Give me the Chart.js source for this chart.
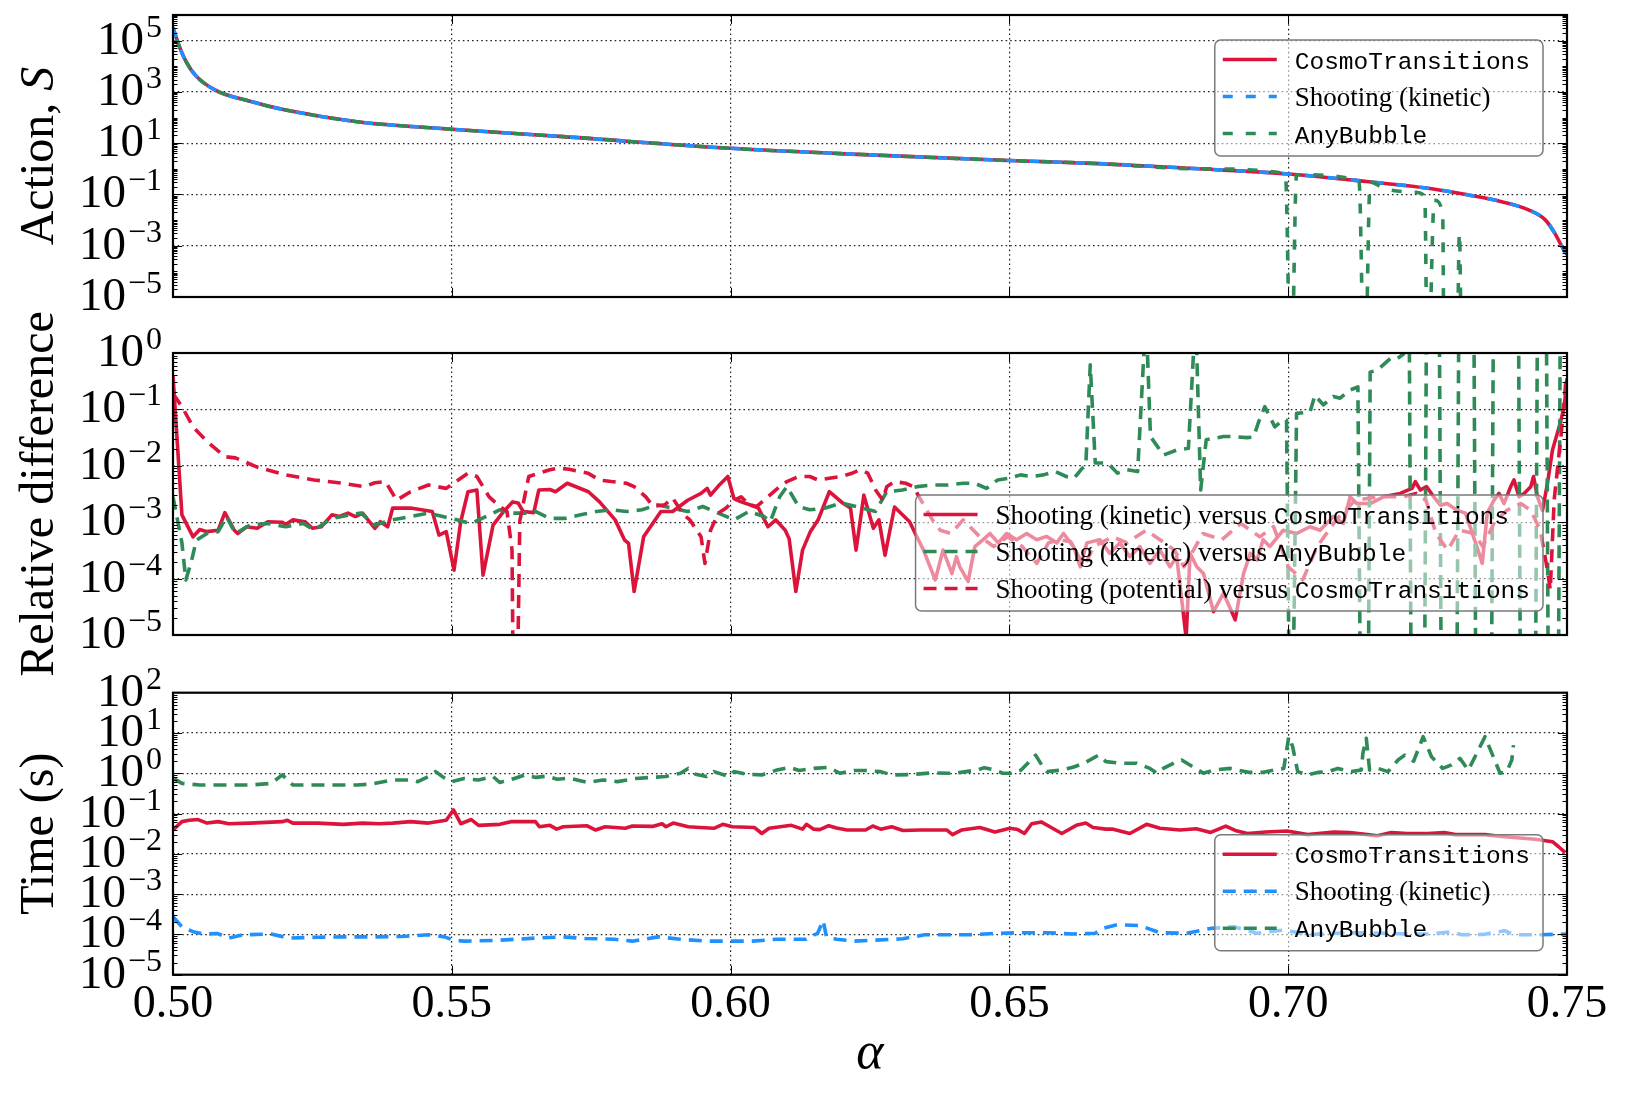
<!DOCTYPE html>
<html>
<head>
<meta charset="utf-8">
<title>Action, relative difference and timing versus alpha</title>
<script src="https://cdn.jsdelivr.net/npm/chart.js@4.4.1/dist/chart.umd.min.js"></script>
<style>
  html, body { margin: 0; padding: 0; background: #fff; }
  #wrap { position: relative; width: 1625px; height: 1098px; }
  #wrap canvas { position: absolute; left: 0; top: 0; }
</style>
</head>
<body>
<div id="wrap">
  <canvas id="actionChart" width="1625" height="1098"></canvas>
  <canvas id="relChart" width="1625" height="1098"></canvas>
  <canvas id="timeChart" width="1625" height="1098"></canvas>
</div>
<script>
// ---- tick values ----
const alphaTicks = [0.5, 0.55, 0.6, 0.65, 0.7, 0.75];
const actionTicks = [1e-5, 1e-3, 1e-1, 1e1, 1e3, 1e5];
const relTicks = [1e-5, 1e-4, 1e-3, 1e-2, 1e-1, 1e0];
const timeTicks = [1e-5, 1e-4, 1e-3, 1e-2, 1e-1, 1e0, 1e1, 1e2];

// ---- top panel: action S ----
const actionAlpha = [0.5, 0.501, 0.5023, 0.504, 0.5075, 0.514, 0.52, 0.533, 0.55, 0.57, 0.6, 0.625, 0.65,
  0.666, 0.684, 0.7, 0.714, 0.7263, 0.7323, 0.7383, 0.7431, 0.7461, 0.7478, 0.7491, 0.75];
const actionCosmo = [3.2e5, 7.1e4, 1.58e4, 4.5e3, 1.2e3, 420, 200, 69, 35, 18, 6.3, 3.5, 2.1,
  1.6, 1.0, 0.63, 0.32, 0.16, 0.095, 0.052, 0.025, 0.0102, 0.0031, 9.3e-4, 4.5e-4];
const actionShooting = [3.2e5, 7.1e4, 1.58e4, 4.5e3, 1.2e3, 420, 200, 69, 35, 18, 6.3, 3.5, 2.1,
  1.6, 1.0, 0.63, 0.32, 0.16, 0.095, 0.052, 0.025, 0.0102, 0.0031, 9.3e-4, 3.8e-4];
// AnyBubble drops out (zero action) at a few points near alpha = 0.70-0.73
const actionAnyAlpha = [0.5, 0.501, 0.5023, 0.504, 0.5075, 0.514, 0.52, 0.533, 0.55, 0.57, 0.6, 0.625, 0.65,
  0.666, 0.684, 0.6995, 0.7005, 0.7015, 0.7127, 0.7137, 0.7147, 0.7168, 0.7191, 0.7231, 0.7245, 0.7250,
  0.7262, 0.7277, 0.7280, 0.7302, 0.7307, 0.7311];
const actionAny = [3.2e5, 7.1e4, 1.58e4, 4.5e3, 1.2e3, 420, 200, 69, 35, 18, 6.3, 3.5, 2.1,
  1.6, 1.0, 0.65, 1e-9, 0.59, 0.34, 1e-9, 0.31, 0.19, 0.14, 0.12, 0.079, 1e-9,
  0.059, 0.02, 1e-9, 1e-9, 0.0032, 1e-9];

// ---- middle panel: relative difference ----
const relKinCosmoAlpha = [0.5000, 0.5016, 0.5036, 0.5048, 0.5061, 0.5081, 0.5093, 0.5110, 0.5116, 0.5132,
  0.5151, 0.5170, 0.5196, 0.5202, 0.5215, 0.5237, 0.5250, 0.5266, 0.5285, 0.5298,
  0.5314, 0.5327, 0.5340, 0.5362, 0.5372, 0.5385, 0.5394, 0.5426, 0.5465, 0.5477,
  0.5490, 0.5504, 0.5516, 0.5529, 0.5545, 0.5556, 0.5574, 0.5593, 0.5609, 0.5619,
  0.5628, 0.5647, 0.5656, 0.5676, 0.5686, 0.5707, 0.5745, 0.5765, 0.5793, 0.5810,
  0.5817, 0.5827, 0.5844, 0.5875, 0.5896, 0.5923, 0.5947, 0.5958, 0.5964, 0.5978,
  0.5995, 0.6006, 0.6019, 0.6037, 0.6050, 0.6067, 0.6081, 0.6098, 0.6105, 0.6117,
  0.6129, 0.6143, 0.6157, 0.6177, 0.6201, 0.6215, 0.6225, 0.6239, 0.6256, 0.6266,
  0.6277, 0.6294, 0.6321, 0.6334, 0.6346, 0.6367, 0.6381, 0.6397, 0.6405, 0.6411,
  0.6426, 0.6438, 0.6453, 0.6465, 0.6480, 0.6495, 0.6513, 0.6531, 0.6549, 0.6567,
  0.6585, 0.6597, 0.6615, 0.6627, 0.6639, 0.6662, 0.6680, 0.6698, 0.6716, 0.6734,
  0.6752, 0.6770, 0.6788, 0.6800, 0.6817, 0.6824, 0.6836, 0.6848, 0.6866, 0.6884,
  0.6905, 0.6920, 0.6932, 0.6944, 0.6955, 0.6967, 0.6991, 0.7015, 0.7039, 0.7057,
  0.7081, 0.7099, 0.7111, 0.7123, 0.7147, 0.7171, 0.7201, 0.7222, 0.7228, 0.7237,
  0.7248, 0.7261, 0.7273, 0.7285, 0.7303, 0.7318, 0.7336, 0.7348, 0.7357, 0.7369,
  0.7378, 0.7387, 0.7399, 0.7405, 0.7414, 0.7423, 0.7435, 0.7440, 0.7447, 0.7456,
  0.7465, 0.7474, 0.7486, 0.7495, 0.7500];
const relKinCosmo = [0.40, 1.35e-3, 5.5e-4, 7.4e-4, 6.8e-4, 7.2e-4, 1.48e-3, 7.2e-4, 6.3e-4, 8.3e-4,
  7.8e-4, 1.02e-3, 1.0e-3, 9.1e-4, 1.1e-3, 1.02e-3, 7.8e-4, 8.3e-4, 1.35e-3, 1.26e-3,
  1.45e-3, 1.26e-3, 1.45e-3, 7.8e-4, 1.02e-3, 8.3e-4, 1.78e-3, 1.78e-3, 1.55e-3, 5.9e-4,
  6.8e-4, 1.41e-4, 1.02e-3, 3.47e-3, 3.72e-3, 1.15e-4, 8.9e-4, 1.55e-3, 2.29e-3, 2.19e-3,
  1.55e-3, 1.48e-3, 3.72e-3, 3.8e-3, 3.47e-3, 4.9e-3, 3.47e-3, 2.29e-3, 1.1e-3, 4.8e-4,
  4.2e-4, 5.9e-5, 5.5e-4, 1.55e-3, 1.55e-3, 2.45e-3, 3.24e-3, 3.98e-3, 3.02e-3, 4.37e-3,
  6.46e-3, 2.63e-3, 2.29e-3, 2.0e-3, 1.78e-3, 8.3e-4, 1.1e-3, 7.2e-4, 5.1e-4, 5.9e-5,
  3.2e-4, 6.8e-4, 1.1e-3, 3.47e-3, 2.19e-3, 1.78e-3, 3.2e-4, 3.02e-3, 7.8e-4, 1.1e-3,
  2.6e-4, 1.86e-3, 1.02e-3, 5.5e-4, 3.2e-4, 9.5e-5, 3.2e-4, 1.23e-4, 2.45e-4, 1.62e-4,
  8.9e-5, 3.7e-4, 4.9e-4, 6.3e-4, 4.3e-4, 6.3e-4, 4.9e-4, 6.3e-4, 4.9e-4, 5.6e-4,
  4.3e-4, 6.3e-4, 3.7e-4, 1.62e-4, 4.3e-4, 4.9e-4, 2.8e-4, 4.3e-4, 2.45e-4, 3.7e-4,
  1.86e-4, 3.2e-4, 1.62e-4, 2.45e-4, 8.9e-6, 2.8e-4, 1.62e-4, 1.23e-4, 2.6e-5, 5.5e-5,
  1.86e-5, 1.23e-4, 2.8e-4, 2.14e-4, 4.9e-4, 3.7e-4, 7.2e-4, 6.3e-4, 8.3e-4, 7.2e-4,
  1.26e-3, 9.5e-4, 2.82e-3, 2.14e-3, 2.14e-3, 2.82e-3, 3.24e-3, 3.98e-3, 5.25e-3, 3.72e-3,
  4.27e-3, 2.82e-3, 2.0e-3, 2.14e-3, 1.62e-3, 1.45e-3, 4.3e-4, 1.86e-4, 1.45e-3, 2.45e-3,
  3.24e-3, 2.14e-3, 4.27e-3, 5.62e-3, 2.82e-3, 3.24e-3, 4.27e-3, 6.46e-3, 2.82e-3, 1.62e-3,
  4.9e-3, 0.019, 0.049, 0.11, 0.355];

const relKinAnyAlpha = [0.5000, 0.5016, 0.5023, 0.5032, 0.5042, 0.5061, 0.5081, 0.5096, 0.5112, 0.5138,
  0.5170, 0.5202, 0.5234, 0.5253, 0.5285, 0.5317, 0.5337, 0.5362, 0.5394, 0.5426,
  0.5458, 0.5484, 0.5509, 0.5535, 0.5561, 0.5586, 0.5606, 0.5631, 0.5650, 0.5676,
  0.5704, 0.5731, 0.5759, 0.5786, 0.5813, 0.5841, 0.5868, 0.5896, 0.5923, 0.5950,
  0.5978, 0.6006, 0.6033, 0.6060, 0.6071, 0.6088, 0.6101, 0.6122, 0.6142, 0.6170,
  0.6198, 0.6225, 0.6260, 0.6280, 0.6308, 0.6335, 0.6362, 0.6390, 0.6417, 0.6438,
  0.6459, 0.6479, 0.6499, 0.6520, 0.6540, 0.6561, 0.6582, 0.6602, 0.6616, 0.6630,
  0.6637, 0.6645, 0.6654, 0.6676, 0.6694, 0.6711, 0.6730, 0.6745, 0.6753, 0.6770,
  0.6776, 0.6800, 0.6821, 0.6834, 0.6843, 0.6853, 0.6884, 0.6899, 0.6926, 0.6938,
  0.6947, 0.6958, 0.6976, 0.6991, 0.6997, 0.7005, 0.7015, 0.7039, 0.7048, 0.7063,
  0.7081, 0.7093, 0.7110, 0.7125, 0.7132, 0.7142, 0.7147, 0.7160, 0.7184, 0.7195,
  0.7207, 0.7217, 0.7222, 0.7243, 0.7248, 0.7271, 0.7276, 0.7301, 0.7306, 0.7333,
  0.7338, 0.7363, 0.7368, 0.7413, 0.7418, 0.7442, 0.7447, 0.7463, 0.7468, 0.7483,
  0.7488, 0.7500];
const relKinAny = [2.82e-3, 4.3e-4, 9.5e-5, 1.86e-4, 4.8e-4, 6.3e-4, 6.8e-4, 1.26e-3, 6.3e-4, 8.9e-4,
  9.5e-4, 8.3e-4, 9.5e-4, 7.2e-4, 1.17e-3, 1.35e-3, 1.45e-3, 8.9e-4, 1.1e-3, 1.26e-3,
  1.45e-3, 1.26e-3, 1.1e-3, 9.5e-4, 1.26e-3, 1.66e-3, 1.45e-3, 1.45e-3, 1.55e-3, 1.17e-3,
  1.17e-3, 1.35e-3, 1.55e-3, 1.66e-3, 1.55e-3, 1.66e-3, 2.04e-3, 1.78e-3, 1.55e-3, 1.9e-3,
  1.45e-3, 1.1e-3, 1.55e-3, 1.26e-3, 1.02e-3, 2.82e-3, 4.27e-3, 1.9e-3, 1.66e-3, 1.78e-3,
  2.19e-3, 1.9e-3, 1.55e-3, 3.47e-3, 3.72e-3, 4.27e-3, 4.57e-3, 4.57e-3, 4.9e-3, 4.9e-3,
  3.98e-3, 5.62e-3, 6.0e-3, 6.9e-3, 6.46e-3, 6.9e-3, 7.9e-3, 6.46e-3, 6.0e-3, 8.9e-3,
  0.01, 0.62, 0.0112, 0.0112, 7.4e-3, 8.5e-3, 7.9e-3, 5, 0.033, 0.019,
  0.0155, 0.019, 0.0204, 5, 3.72e-3, 0.029, 0.033, 0.033, 0.0316, 0.0324,
  0.060, 0.112, 0.049, 0.065, 0.065, 1e-9, 0.085, 0.089, 0.178, 0.12,
  0.17, 0.158, 0.219, 0.25, 1e-9, 1e-9, 0.457, 0.50, 0.81, 0.79,
  0.955, 5, 1e-9, 1e-9, 5, 5, 1e-9, 1e-9, 5, 5,
  1e-9, 1e-9, 5, 5, 1e-9, 1e-9, 5, 5, 1e-9, 1e-9,
  5, 5];

const relPotCosmoAlpha = [0.5000, 0.5016, 0.5036, 0.5061, 0.5093, 0.5112, 0.5151, 0.5202, 0.5253, 0.5305,
  0.5343, 0.5362, 0.5381, 0.5401, 0.5426, 0.5458, 0.5490, 0.5503, 0.5516, 0.5529,
  0.5545, 0.5567, 0.5586, 0.5599, 0.5608, 0.5613, 0.5622, 0.5638, 0.5656, 0.5676,
  0.5690, 0.5710, 0.5744, 0.5765, 0.5786, 0.5813, 0.5827, 0.5848, 0.5861, 0.5882,
  0.5896, 0.5916, 0.5927, 0.5947, 0.5954, 0.5964, 0.5978, 0.5992, 0.6006, 0.6019,
  0.6033, 0.6047, 0.6060, 0.6074, 0.6088, 0.6101, 0.6122, 0.6142, 0.6157, 0.6177,
  0.6198, 0.6218, 0.6232, 0.6246, 0.6260, 0.6273, 0.6280, 0.6294, 0.6314, 0.6328,
  0.6338, 0.6362, 0.6376, 0.6395, 0.6417, 0.6447, 0.6472, 0.6497, 0.6523, 0.6549,
  0.6570, 0.6591, 0.6610, 0.6634, 0.6651, 0.6685, 0.6711, 0.6745, 0.6770, 0.6796,
  0.6813, 0.6847, 0.6881, 0.6915, 0.6949, 0.6974, 0.7000, 0.7026, 0.7052, 0.7086,
  0.7120, 0.7162, 0.7205, 0.7230, 0.7247, 0.7265, 0.7286, 0.7307, 0.7333, 0.7349,
  0.7370, 0.7392, 0.7417, 0.7435, 0.7452, 0.7465, 0.7470, 0.7477, 0.7490, 0.7498];
const relPotCosmo = [0.19, 0.112, 0.049, 0.027, 0.0145, 0.0138, 9.5e-3, 6.9e-3, 5.6e-3, 4.9e-3,
  4.27e-3, 5.0e-3, 5.25e-3, 2.45e-3, 3.47e-3, 4.57e-3, 3.98e-3, 4.9e-3, 6.0e-3, 7.4e-3,
  6.46e-3, 2.82e-3, 1.9e-3, 1.55e-3, 3.2e-4, 1e-9, 1.07e-3, 6.46e-3, 7.4e-3, 8.5e-3,
  9.1e-3, 8.7e-3, 7.4e-3, 5.6e-3, 5.25e-3, 4.9e-3, 4.27e-3, 2.82e-3, 1.9e-3, 2.04e-3,
  2.69e-3, 1.35e-3, 1.1e-3, 5.5e-4, 1.86e-4, 7.2e-4, 1.45e-3, 1.78e-3, 2.45e-3, 2.82e-3,
  2.04e-3, 1.9e-3, 2.45e-3, 3.24e-3, 4.27e-3, 5.25e-3, 6.46e-3, 6.46e-3, 5.6e-3, 6.0e-3,
  6.46e-3, 7.4e-3, 8.5e-3, 7.4e-3, 3.72e-3, 2.45e-3, 4.27e-3, 5.25e-3, 4.9e-3, 4.27e-3,
  2.82e-3, 1.1e-3, 7.2e-4, 6.3e-4, 1.1e-3, 5.5e-4, 3.7e-4, 5.5e-4, 3.7e-4, 1.86e-4,
  4.3e-4, 4.9e-4, 4.5e-4, 1.62e-4, 3.7e-4, 5.5e-4, 4.3e-4, 7.2e-4, 4.9e-4, 3.2e-4,
  1.62e-4, 6.3e-4, 4.9e-4, 9.5e-4, 5.5e-4, 8.3e-4, 1.62e-4, 9.5e-5, 3.7e-4, 1.1e-3,
  2.45e-3, 2.82e-3, 2.82e-3, 3.24e-3, 2.45e-3, 6.3e-4, 3.2e-4, 7.2e-4, 6.3e-4, 3.7e-4,
  1.0e-3, 1.62e-3, 2.14e-3, 1.62e-3, 7.2e-4, 1.41e-4, 6.3e-5, 2.5e-3, 0.04, 0.32];

// ---- bottom panel: run time in seconds ----
const timeCosmoAlpha = [0.5000, 0.5016, 0.5029, 0.5045, 0.5061, 0.5081, 0.5100, 0.5138, 0.5196, 0.5205,
  0.5215, 0.5260, 0.5305, 0.5340, 0.5370, 0.5394, 0.5426, 0.5458, 0.5490, 0.5503,
  0.5516, 0.5535, 0.5548, 0.5586, 0.5606, 0.5650, 0.5657, 0.5676, 0.5688, 0.5700,
  0.5742, 0.5758, 0.5775, 0.5811, 0.5824, 0.5860, 0.5877, 0.5884, 0.5897, 0.5924,
  0.5945, 0.5970, 0.5986, 0.6003, 0.6043, 0.6056, 0.6069, 0.6109, 0.6129, 0.6136,
  0.6149, 0.6160, 0.6176, 0.6190, 0.6209, 0.6242, 0.6255, 0.6269, 0.6289, 0.6309,
  0.6340, 0.6388, 0.6398, 0.6414, 0.6447, 0.6474, 0.6501, 0.6515, 0.6527, 0.6540,
  0.6557, 0.6575, 0.6594, 0.6620, 0.6637, 0.6650, 0.6673, 0.6686, 0.6716, 0.6746,
  0.6770, 0.6806, 0.6835, 0.6861, 0.6888, 0.6905, 0.6927, 0.6960, 0.6998, 0.7035,
  0.7082, 0.7110, 0.7142, 0.7160, 0.7185, 0.7214, 0.7250, 0.7280, 0.7300, 0.7353,
  0.7383, 0.7443, 0.7474, 0.7485, 0.7497];
const timeCosmo = [0.039, 0.063, 0.068, 0.071, 0.058, 0.063, 0.056, 0.058, 0.063, 0.068,
  0.058, 0.058, 0.054, 0.058, 0.056, 0.058, 0.063, 0.058, 0.068, 0.123,
  0.056, 0.071, 0.051, 0.054, 0.063, 0.063, 0.047, 0.051, 0.041, 0.047,
  0.050, 0.039, 0.047, 0.043, 0.049, 0.048, 0.056, 0.047, 0.058, 0.047,
  0.045, 0.043, 0.054, 0.047, 0.045, 0.032, 0.043, 0.051, 0.041, 0.054,
  0.041, 0.040, 0.050, 0.044, 0.039, 0.039, 0.049, 0.041, 0.047, 0.038,
  0.039, 0.039, 0.030, 0.039, 0.045, 0.035, 0.043, 0.040, 0.032, 0.056,
  0.062, 0.045, 0.032, 0.051, 0.058, 0.045, 0.041, 0.041, 0.032, 0.054,
  0.043, 0.039, 0.042, 0.034, 0.049, 0.038, 0.032, 0.035, 0.037, 0.030,
  0.035, 0.034, 0.030, 0.028, 0.034, 0.032, 0.032, 0.034, 0.030, 0.030,
  0.027, 0.023, 0.020, 0.015, 0.0107];

const timeShootAlpha = [0.5000, 0.5016, 0.5036, 0.5055, 0.5080, 0.5100, 0.5125, 0.5176, 0.5208, 0.5260,
  0.5305, 0.5360, 0.5410, 0.5458, 0.5487, 0.5503, 0.5522, 0.5580, 0.5650, 0.5700,
  0.5740, 0.5791, 0.5824, 0.5870, 0.5910, 0.5957, 0.5997, 0.6040, 0.6083, 0.6135,
  0.6156, 0.6166, 0.6172, 0.6190, 0.6222, 0.6260, 0.6309, 0.6348, 0.6390, 0.6428,
  0.6481, 0.6521, 0.6570, 0.6614, 0.6654, 0.6667, 0.6693, 0.6734, 0.6770, 0.6818,
  0.6861, 0.6903, 0.6944, 0.6993, 0.7035, 0.7082, 0.7130, 0.7180, 0.7214, 0.7255,
  0.7293, 0.7311, 0.7350, 0.7388, 0.7406, 0.7450, 0.7500];
const timeShoot = [2.75e-4, 1.55e-4, 1.17e-4, 1.02e-4, 1.05e-4, 8.1e-5, 9.8e-5, 1.02e-4, 8.1e-5, 8.5e-5,
  8.7e-5, 8.7e-5, 8.9e-5, 9.8e-5, 8.7e-5, 7.2e-5, 6.8e-5, 7.1e-5, 8.1e-5, 8.7e-5,
  7.9e-5, 7.6e-5, 6.8e-5, 8.7e-5, 7.6e-5, 6.8e-5, 6.8e-5, 6.8e-5, 7.6e-5, 7.6e-5,
  1.07e-4, 2.2e-4, 8.7e-5, 7.6e-5, 6.8e-5, 7.2e-5, 7.8e-5, 9.8e-5, 9.8e-5, 9.8e-5,
  1.07e-4, 1.1e-4, 1.1e-4, 1.02e-4, 1.07e-4, 1.41e-4, 1.74e-4, 1.66e-4, 1.1e-4, 1.07e-4,
  1.41e-4, 1.55e-4, 1.07e-4, 1.29e-4, 9.8e-5, 1.07e-4, 1.1e-4, 1.07e-4, 1.02e-4, 1.02e-4,
  1.17e-4, 9.8e-5, 1.0e-4, 1.23e-4, 9.8e-5, 9.8e-5, 1.02e-4];

const timeAnyAlpha = [0.5000, 0.5016, 0.5048, 0.5100, 0.5138, 0.5176, 0.5196, 0.5215, 0.5265, 0.5330,
  0.5355, 0.5394, 0.5426, 0.5439, 0.5458, 0.5471, 0.5485, 0.5500, 0.5522, 0.5548,
  0.5574, 0.5586, 0.5612, 0.5631, 0.5651, 0.5670, 0.5689, 0.5710, 0.5744, 0.5771,
  0.5797, 0.5830, 0.5857, 0.5884, 0.5910, 0.5924, 0.5937, 0.5957, 0.5970, 0.5997,
  0.6006, 0.6029, 0.6056, 0.6083, 0.6106, 0.6123, 0.6149, 0.6176, 0.6196, 0.6222,
  0.6242, 0.6269, 0.6289, 0.6322, 0.6362, 0.6402, 0.6422, 0.6442, 0.6455, 0.6475,
  0.6488, 0.6505, 0.6521, 0.6547, 0.6560, 0.6567, 0.6594, 0.6614, 0.6634, 0.6660,
  0.6673, 0.6698, 0.6728, 0.6752, 0.6765, 0.6776, 0.6800, 0.6809, 0.6848, 0.6866,
  0.6896, 0.6908, 0.6932, 0.6953, 0.6974, 0.6992, 0.7001, 0.7008, 0.7017, 0.7035,
  0.7053, 0.7071, 0.7089, 0.7113, 0.7131, 0.7134, 0.7140, 0.7146, 0.7161, 0.7179,
  0.7197, 0.7209, 0.7225, 0.7242, 0.7257, 0.7268, 0.7277, 0.7293, 0.7308, 0.7323,
  0.7353, 0.7380, 0.7392, 0.7401, 0.7404];
const timeAny = [0.76, 0.56, 0.51, 0.51, 0.51, 0.56, 0.91, 0.51, 0.51, 0.51,
  0.54, 0.68, 0.68, 0.62, 0.83, 1.10, 0.79, 0.62, 0.74, 0.68,
  0.83, 0.59, 0.74, 0.91, 0.79, 0.85, 0.71, 0.76, 0.59, 0.68,
  0.62, 0.74, 0.79, 0.83, 1.0, 1.32, 0.95, 0.83, 1.10, 0.83,
  1.10, 0.95, 0.91, 1.20, 1.41, 1.17, 1.32, 1.41, 1.0, 1.17,
  1.17, 1.10, 0.91, 0.93, 1.02, 1.0, 1.10, 1.20, 1.38, 1.20,
  1.0, 1.0, 1.20, 2.82, 1.45, 1.10, 1.20, 1.41, 1.78, 2.82,
  1.95, 1.78, 1.78, 1.32, 1.0, 1.32, 1.95, 2.14, 1.0, 1.20,
  1.32, 1.20, 1.05, 1.05, 1.20, 1.32, 8.1, 4.57, 1.10, 0.91,
  1.05, 1.10, 1.32, 1.10, 1.20, 3.16, 7.4, 1.20, 1.32, 1.10,
  2.14, 2.82, 2.0, 8.1, 2.57, 1.78, 1.32, 1.62, 2.34, 1.20,
  8.1, 1.0, 1.10, 2.14, 5.0];

// ---- styling ----
const SERIF = '"Liberation Serif", "DejaVu Serif", serif';
const MONO = '"Liberation Mono", "DejaVu Sans Mono", monospace';
const CRIMSON = '#dc143c';
const DODGER = '#1e90ff';
const SEAGREEN = '#2e8b57';
const LINE_W = 3.6;
const DASH = [13, 8];
const GRID_COLOR = 'rgba(0,0,0,0.85)';
const GRID_DASH = [1.6, 3];
const PAGE_W = 1625, PAGE_H = 1098;
const PLOT_LEFT = 173, PLOT_RIGHT = 1567;
const TICK_FONT = '47px ' + SERIF;
const SUP_FONT = '32px ' + SERIF;
const TITLE_FONT = '48px ' + SERIF;
const TITLE_FONT_IT = 'italic 48px ' + SERIF;
const LEG_SERIF = '27px ' + SERIF;
const LEG_MONO = '24.5px ' + MONO;

const serifPart = (text) => ({ text, font: LEG_SERIF });
const monoPart = (text) => ({ text, font: LEG_MONO });

function toPoints(xs, ys) {
  return xs.map((x, i) => ({ x, y: ys[i] }));
}

function series(label, xs, ys, color, opts = {}) {
  return {
    label,
    data: toPoints(xs, ys),
    borderColor: color,
    backgroundColor: color,
    borderWidth: LINE_W,
    borderDash: opts.dash || [],
    borderDashOffset: opts.dashOffset || 0,
    borderJoinStyle: 'round',
    borderCapStyle: 'butt',
    pointRadius: 0,
    pointHoverRadius: 0,
    fill: false,
    tension: 0,
    cubicInterpolationMode: opts.smooth ? 'monotone' : 'default',
    order: opts.order
  };
}

function textWidth(ctx, parts) {
  let w = 0;
  for (const p of parts) {
    ctx.font = p.font;
    w += ctx.measureText(p.text).width;
  }
  return w;
}

function roundedRect(ctx, x, y, w, h, r) {
  ctx.beginPath();
  ctx.moveTo(x + r, y);
  ctx.lineTo(x + w - r, y);
  ctx.arcTo(x + w, y, x + w, y + r, r);
  ctx.lineTo(x + w, y + h - r);
  ctx.arcTo(x + w, y + h, x + w - r, y + h, r);
  ctx.lineTo(x + r, y + h);
  ctx.arcTo(x, y + h, x, y + h - r, r);
  ctx.lineTo(x, y + r);
  ctx.arcTo(x, y, x + r, y, r);
  ctx.closePath();
}

// legend box with a half transparent face, like the matplotlib one
function drawLegend(chart, legend) {
  const { ctx, chartArea: a } = chart;
  const datasets = chart.data.datasets;
  ctx.save();
  const textW = Math.max(...legend.items.map((it) => textWidth(ctx, it.parts)));
  const w = 80 + textW + 13;
  const h = 116;
  const x0 = a.right - 24 - w;
  const y0 = legend.corner === 'upper' ? a.top + 25 : a.bottom - 24 - h;
  roundedRect(ctx, x0, y0, w, h, 6);
  ctx.fillStyle = 'rgba(255,255,255,0.5)';
  ctx.fill();
  ctx.lineWidth = 1.5;
  ctx.strokeStyle = '#7a7a7a';
  ctx.stroke();
  legend.items.forEach((it, i) => {
    const ds = datasets[it.ds];
    const cy = y0 + 19.5 + i * 37;
    ctx.beginPath();
    ctx.setLineDash(ds.borderDash);
    ctx.lineDashOffset = 0;
    ctx.lineWidth = ds.borderWidth;
    ctx.strokeStyle = ds.borderColor;
    ctx.lineCap = 'butt';
    ctx.moveTo(x0 + 8, cy);
    ctx.lineTo(x0 + 62, cy);
    ctx.stroke();
    ctx.setLineDash([]);
    ctx.fillStyle = '#000';
    ctx.textAlign = 'left';
    ctx.textBaseline = 'alphabetic';
    let tx = x0 + 80;
    for (const p of it.parts) {
      ctx.font = p.font;
      ctx.fillText(p.text, tx, cy + 9);
      tx += ctx.measureText(p.text).width;
    }
  });
  ctx.restore();
}

// "10" with a raised exponent, right aligned left of the plot
function drawYLabels(chart, values) {
  const { ctx, chartArea: a, scales: { y } } = chart;
  ctx.save();
  ctx.fillStyle = '#000';
  ctx.textAlign = 'left';
  ctx.textBaseline = 'alphabetic';
  const right = a.left - 11;
  for (const v of values) {
    const py = y.getPixelForValue(v);
    const e = Math.round(Math.log10(v));
    const sup = e < 0 ? '\u2212' + (-e) : String(e);
    ctx.font = SUP_FONT;
    const ws = ctx.measureText(sup).width;
    ctx.font = TICK_FONT;
    const wb = ctx.measureText('10').width;
    ctx.fillText('10', right - ws - 2 - wb, py + 13);
    ctx.font = SUP_FONT;
    ctx.fillText(sup, right - ws, py - 4);
  }
  ctx.restore();
}

function drawYTitle(chart, parts) {
  const { ctx, chartArea: a } = chart;
  ctx.save();
  ctx.translate(53, (a.top + a.bottom) / 2);
  ctx.rotate(-Math.PI / 2);
  ctx.fillStyle = '#000';
  ctx.textAlign = 'left';
  ctx.textBaseline = 'alphabetic';
  let x = -textWidth(ctx, parts) / 2;
  for (const p of parts) {
    ctx.font = p.font;
    ctx.fillText(p.text, x, 0);
    x += ctx.measureText(p.text).width;
  }
  ctx.restore();
}

// inward tick marks on all four sides plus the black frame
function drawTicksAndFrame(chart, panel) {
  const { ctx, chartArea: a, scales: { x, y } } = chart;
  ctx.save();
  ctx.strokeStyle = '#000';
  ctx.lineWidth = 1;
  ctx.setLineDash([]);
  const labelled = new Set(panel.labelValues.map((v) => Math.round(Math.log10(v))));
  const e0 = Math.round(Math.log10(panel.yMin));
  const e1 = Math.round(Math.log10(panel.yMax));
  ctx.beginPath();
  for (let e = e0; e < e1; e++) {
    for (let m = 1; m < 10; m++) {
      const py = Math.round(y.getPixelForValue(m * Math.pow(10, e))) + 0.5;
      const len = m === 1 && labelled.has(e) ? 9 : 4.5;
      ctx.moveTo(a.left, py); ctx.lineTo(a.left + len, py);
      ctx.moveTo(a.right, py); ctx.lineTo(a.right - len, py);
    }
  }
  for (const v of alphaTicks.slice(1, -1)) {
    const px = Math.round(x.getPixelForValue(v)) + 0.5;
    ctx.moveTo(px, a.bottom); ctx.lineTo(px, a.bottom - 9);
    ctx.moveTo(px, a.top); ctx.lineTo(px, a.top + 9);
  }
  ctx.stroke();
  ctx.lineWidth = 2.2;
  ctx.strokeRect(a.left, a.top, a.right - a.left, a.bottom - a.top);
  ctx.restore();
}

function decorPlugin(panel) {
  return {
    id: 'decor-' + panel.id,
    afterDatasetsDraw(chart) {
      drawTicksAndFrame(chart, panel);
      drawYLabels(chart, panel.labelValues);
      drawYTitle(chart, panel.title);
      drawLegend(chart, panel.legend);
    }
  };
}

function makePanel(panel) {
  const showX = panel.showX;
  return new Chart(document.getElementById(panel.id), {
    type: 'line',
    data: { datasets: panel.datasets },
    options: {
      responsive: false,
      animation: false,
      devicePixelRatio: 1,
      events: [],
      layout: {
        padding: { left: 0, top: panel.top, right: PAGE_W - PLOT_RIGHT, bottom: showX ? 0 : PAGE_H - panel.bottom }
      },
      plugins: { legend: { display: false }, tooltip: { enabled: false } },
      scales: {
        x: {
          type: 'linear',
          min: 0.5,
          max: 0.75,
          afterBuildTicks: (s) => { s.ticks = alphaTicks.map((v) => ({ value: v })); },
          afterFit: (s) => { s.height = showX ? PAGE_H - panel.bottom : 0; },
          grid: { color: GRID_COLOR, lineWidth: 1.2, drawTicks: false },
          border: { display: false, dash: GRID_DASH },
          ticks: {
            display: showX,
            padding: 3,
            color: '#000',
            autoSkip: false,
            maxRotation: 0,
            font: { family: SERIF, size: 46 },
            callback: (v) => Number(v).toFixed(2)
          },
          title: {
            display: showX,
            text: 'α',
            color: '#000',
            font: { family: SERIF, size: 52, style: 'italic' },
            padding: { top: 0, bottom: 12 }
          }
        },
        y: {
          type: 'logarithmic',
          min: panel.yMin,
          max: panel.yMax,
          afterBuildTicks: (s) => { s.ticks = panel.labelValues.map((v) => ({ value: v })); },
          afterFit: (s) => { s.width = PLOT_LEFT; },
          grid: { color: GRID_COLOR, lineWidth: 1.2, drawTicks: false },
          border: { display: false, dash: GRID_DASH },
          ticks: { display: false }
        }
      }
    },
    plugins: [decorPlugin(panel)]
  });
}

makePanel({
  id: 'actionChart',
  top: 15,
  bottom: 297,
  yMin: 1e-5,
  yMax: 1e6,
  labelValues: actionTicks,
  showX: false,
  title: [{ text: 'Action, ', font: TITLE_FONT }, { text: 'S', font: TITLE_FONT_IT }],
  datasets: [
    series('CosmoTransitions', actionAlpha, actionCosmo, CRIMSON, { smooth: true, order: 3 }),
    series('Shooting (kinetic)', actionAlpha, actionShooting, DODGER, { smooth: true, dash: [10, 13], order: 2 }),
    series('AnyBubble', actionAnyAlpha, actionAny, SEAGREEN, { smooth: true, dash: [10, 13], dashOffset: 11.5, order: 1 })
  ],
  legend: {
    corner: 'upper',
    items: [
      { ds: 0, parts: [monoPart('CosmoTransitions')] },
      { ds: 1, parts: [serifPart('Shooting (kinetic)')] },
      { ds: 2, parts: [monoPart('AnyBubble')] }
    ]
  }
});

makePanel({
  id: 'relChart',
  top: 353,
  bottom: 635,
  yMin: 1e-5,
  yMax: 1e0,
  labelValues: relTicks,
  showX: false,
  title: [{ text: 'Relative difference', font: TITLE_FONT }],
  datasets: [
    series('Shooting (kinetic) versus CosmoTransitions', relKinCosmoAlpha, relKinCosmo, CRIMSON, { order: 3 }),
    series('Shooting (kinetic) versus AnyBubble', relKinAnyAlpha, relKinAny, SEAGREEN, { dash: DASH, order: 2 }),
    series('Shooting (potential) versus CosmoTransitions', relPotCosmoAlpha, relPotCosmo, CRIMSON, { dash: DASH, order: 1 })
  ],
  legend: {
    corner: 'lower',
    items: [
      { ds: 0, parts: [serifPart('Shooting (kinetic) versus '), monoPart('CosmoTransitions')] },
      { ds: 1, parts: [serifPart('Shooting (kinetic) versus '), monoPart('AnyBubble')] },
      { ds: 2, parts: [serifPart('Shooting (potential) versus '), monoPart('CosmoTransitions')] }
    ]
  }
});

makePanel({
  id: 'timeChart',
  top: 692.7,
  bottom: 974.7,
  yMin: 1e-5,
  yMax: 1e2,
  labelValues: timeTicks,
  showX: true,
  title: [{ text: 'Time (s)', font: TITLE_FONT }],
  datasets: [
    series('CosmoTransitions', timeCosmoAlpha, timeCosmo, CRIMSON, { order: 3 }),
    series('Shooting (kinetic)', timeShootAlpha, timeShoot, DODGER, { dash: DASH, order: 2 }),
    series('AnyBubble', timeAnyAlpha, timeAny, SEAGREEN, { dash: DASH, order: 1 })
  ],
  legend: {
    corner: 'lower',
    items: [
      { ds: 0, parts: [monoPart('CosmoTransitions')] },
      { ds: 1, parts: [serifPart('Shooting (kinetic)')] },
      { ds: 2, parts: [monoPart('AnyBubble')] }
    ]
  }
});
</script>
</body>
</html>
